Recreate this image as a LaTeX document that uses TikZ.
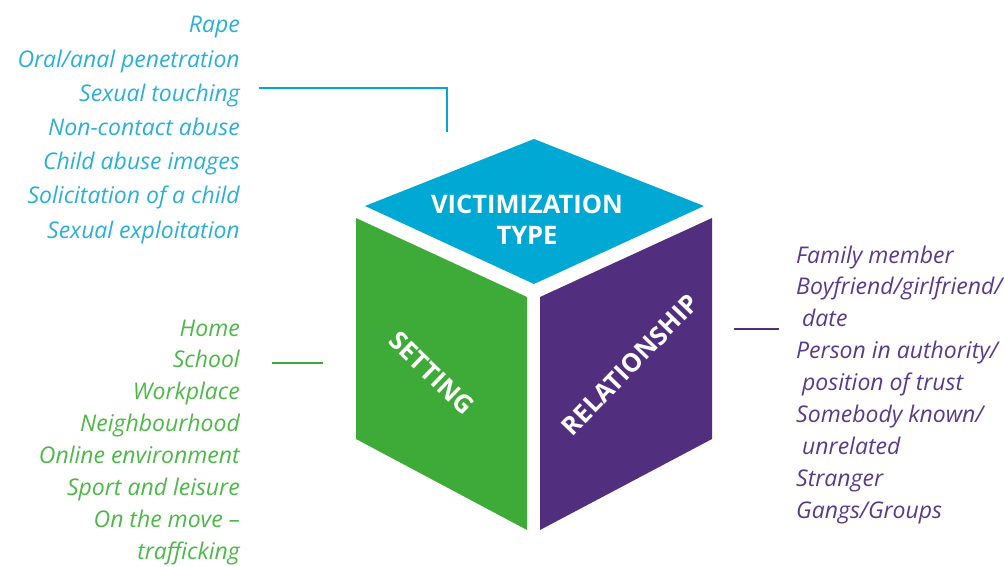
\documentclass[tikz,border=0pt]{standalone}
\usepackage{fontspec}
\setmainfont{Open Sans}
\definecolor{cyanface}{HTML}{00A9D3}
\definecolor{cyantext}{HTML}{2AAFD8}
\definecolor{greenface}{HTML}{3EAA38}
\definecolor{greentext}{HTML}{4DB848}
\definecolor{purpface}{HTML}{522E7E}
\definecolor{purptext}{HTML}{5A3A8A}
\tikzset{
  listl/.style={anchor=base east, inner sep=0pt, font=\fontsize{23}{23}\selectfont\itshape},
  listr/.style={anchor=base west, inner sep=0pt, font=\fontsize{23}{23}\selectfont\itshape},
  facelabel/.style={text=white, inner sep=0pt, font=\fontsize{25.5}{31.5}\selectfont\bfseries, align=center},
  conn/.style={line width=2.2pt},
}
\begin{document}
\begin{tikzpicture}[x=1pt,y=-1pt]
\useasboundingbox (0,0) rectangle (1004,567);
% cube faces
\fill[cyanface] (534,139) -- (704,206) -- (534,284) -- (365,206) -- cycle;
\fill[greenface] (356,218) -- (527,297) -- (527,530) -- (356,439) -- cycle;
\fill[purpface] (540,297) -- (712,218) -- (712,439) -- (540,530) -- cycle;
\node[facelabel] (vt) at (527,220) {VICTIMIZATION\\TYPE};
\node[facelabel, rotate=-44] (st) at (432,373) {SETTING};
\node[facelabel, rotate=46] (rl) at (630,365) {RELATIONSHIP};
% cyan list
\foreach \t [count=\i] in {Rape,Oral/anal penetration,Sexual touching,Non-contact abuse,Child abuse images,Solicitation of a child,Sexual exploitation}
  \node[listl, text=cyantext] (c\i) at (240,{33+34.2*(\i-1)}) {\t};
% green list
\foreach \t [count=\i] in {Home,School,Workplace,Neighbourhood,Online environment,Sport and leisure,On the move –,trafficking}
  \node[listl, text=greentext] (g\i) at (240,{336+31.9*(\i-1)}) {\t};
% purple list
\foreach \t [count=\i] in {Family member,Boyfriend/girlfriend/,\ date,Person in authority/,\ position of trust,Somebody known/,\ unrelated,Stranger,Gangs/Groups}
  \node[listr, text=purptext] (p\i) at (796,{263+31.9*(\i-1)}) {\t};
% connectors
\coordinate (ca) at (259,88);
\coordinate (cb) at (447,88);
\coordinate (cc) at (447,132);
\draw[conn, cyanface] (ca) -- (cb) -- (cc);
\coordinate (ga) at (272,363);
\coordinate (gb) at (323,363);
\draw[conn, greenface] (ga) -- (gb);
\coordinate (pa) at (734,329);
\coordinate (pb) at (779,329);
\draw[conn, purpface] (pa) -- (pb);
\end{tikzpicture}
\end{document}
